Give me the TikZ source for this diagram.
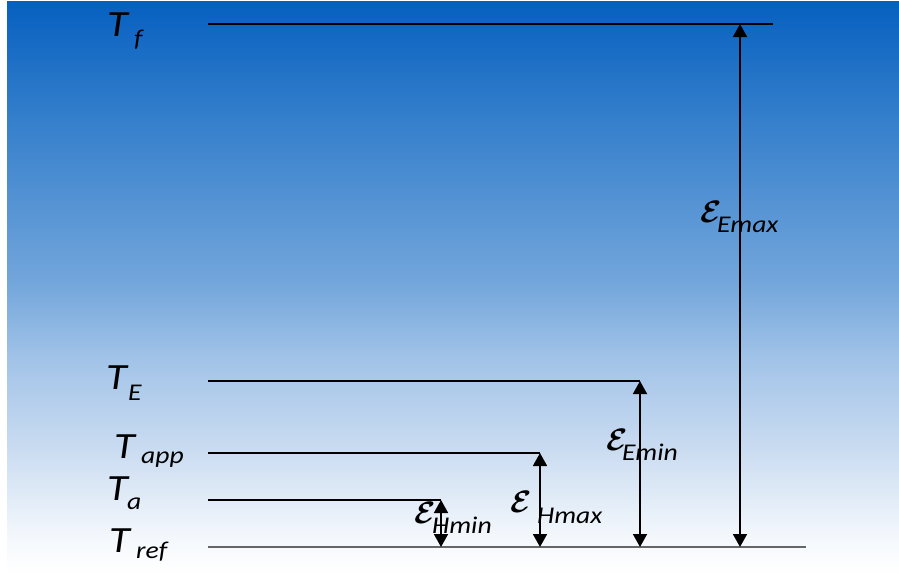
\RequirePackage{fix-cm}
\documentclass[tikz,border=0pt]{standalone}
\usepackage{fontspec}
\setmainfont{Carlito}
\newfontfamily\lblfont[FakeStretch=1.15]{Carlito}
\usetikzlibrary{arrows.meta}

% sky gradient, stops kept inside the middle 50bp that TikZ fits to the path
\pgfdeclareverticalshading{skyfade}{100bp}{rgb(0bp)=(1,1,1); rgb(25bp)=(1,1,1);
  rgb(28bp)=(0.96,0.975,0.99); rgb(36bp)=(0.79,0.86,0.945); rgb(43.5bp)=(0.64,0.77,0.91);
  rgb(50.5bp)=(0.45,0.65,0.86); rgb(64.5bp)=(0.21,0.50,0.80); rgb(75bp)=(0.024,0.376,0.753);
  rgb(100bp)=(0.024,0.376,0.753)}

\tikzset{
  level/.style={black,line width=1.4pt},
  gap/.style={{Triangle[width=14pt,length=13pt]}-{Triangle[width=14pt,length=13pt]},black,line width=1.8pt},
  tlbl/.style={font=\lblfont\fontsize{37}{42}\selectfont\itshape,inner sep=0pt,anchor=base west},
  sublbl/.style={font=\lblfont\fontsize{24}{28}\selectfont\itshape,inner sep=0pt,anchor=base west},
  eps/.style={font=\fontsize{31}{36}\selectfont\boldmath,inner sep=0pt,anchor=base west},
}

\begin{document}
\begin{tikzpicture}[x=1pt,y=-1pt]
\useasboundingbox (0,0) rectangle (899,574);
\shade[shading=skyfade] (7,1) rectangle (899,574);

% temperature levels
\coordinate (f-l) at (208,24);   \coordinate (f-r) at (773,24);
\coordinate (E-l) at (208,381);  \coordinate (E-r) at (640,381);
\coordinate (app-l) at (208,453);\coordinate (app-r) at (540,453);
\coordinate (a-l) at (208,500);  \coordinate (a-r) at (441,500);
\coordinate (ref-l) at (208,547);\coordinate (ref-r) at (806,547);
\coordinate (f-Ex) at (740,24);
\coordinate (ref-Ha) at (441,547);
\coordinate (ref-Hm) at (540,547);
\coordinate (ref-Em) at (640,547);
\coordinate (ref-Ex) at (740,547);

\draw[level] (f-l) -- (f-r);
\draw[level] (E-l) -- (E-r);
\draw[level] (app-l) -- (app-r);
\draw[level] (a-l) -- (a-r);
\draw[level,black!60,line width=2pt] (ref-l) -- (ref-r);

\node[tlbl] (Tf) at (107,36) {T};
\node[sublbl] (Tf-sub) at (134,46) {f};
\node[tlbl] (TE) at (106,389) {T};
\node[sublbl] (TE-sub) at (128,400) {E};
\node[tlbl] (Tapp) at (114,458) {T};
\node[sublbl] (Tapp-sub) at (141,463) {app};
\node[tlbl] (Ta) at (107,500) {T};
\node[sublbl] (Ta-sub) at (127,509) {a};
\node[tlbl] (Tref) at (109,552) {T};
\node[sublbl] (Tref-sub) at (136,558) {ref};

% differences
\draw[gap] (ref-Ha) -- (a-r);
\draw[gap] (ref-Hm) -- (app-r);
\draw[gap] (ref-Em) -- (E-r);
\draw[gap] (ref-Ex) -- (f-Ex);

\node[eps] (eHmin) at (414,523) {$\mathcal{E}$};
\node[sublbl] (eHmin-sub) at (432,533) {Hmin};
\node[eps] (eHmax) at (510,512) {$\mathcal{E}$};
\node[sublbl] (eHmax-sub) at (537,523) {Hmax};
\node[eps] (eEmin) at (606,450) {$\mathcal{E}$};
\node[sublbl] (eEmin-sub) at (622,460) {Emin};
\node[eps] (eEmax) at (700,222) {$\mathcal{E}$};
\node[sublbl] (eEmax-sub) at (717,232) {Emax};
\end{tikzpicture}
\end{document}
